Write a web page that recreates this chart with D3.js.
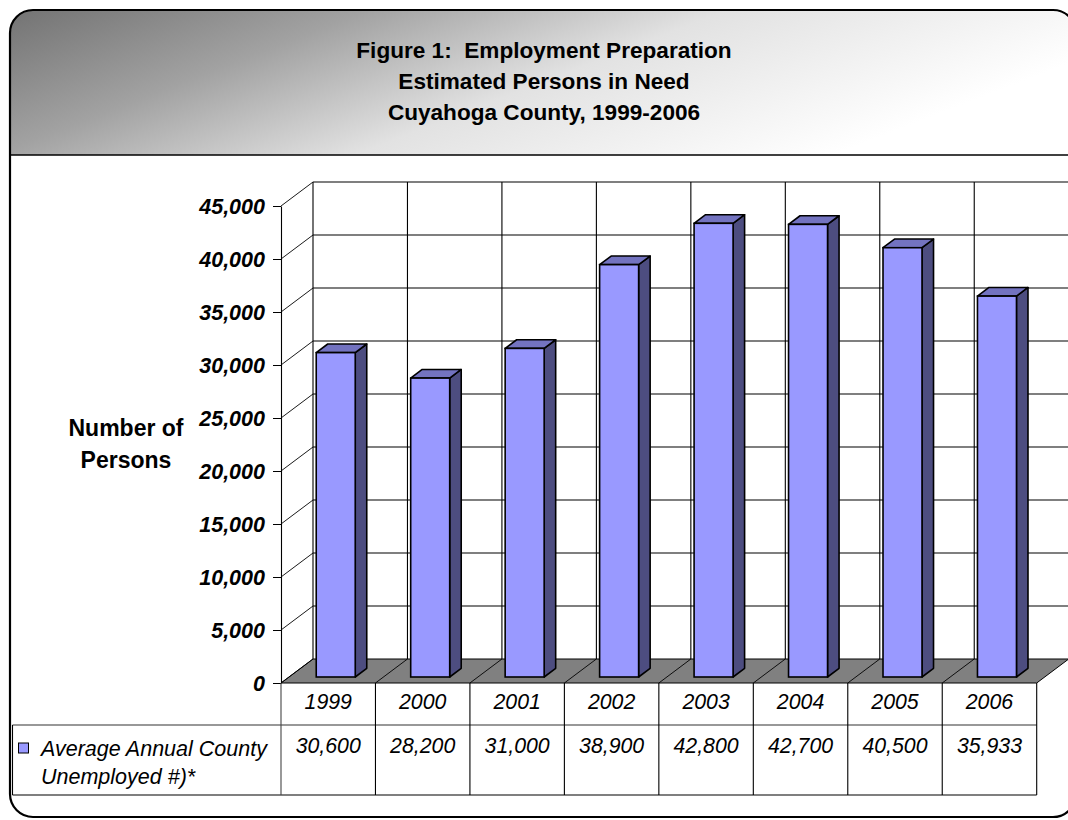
<!DOCTYPE html>
<html>
<head>
<meta charset="utf-8">
<script src="https://cdnjs.cloudflare.com/ajax/libs/d3/7.8.5/d3.min.js"></script>
<style>
  html, body { margin: 0; padding: 0; background: #ffffff; }
  svg { display: block; font-family: "Liberation Sans", Arial, sans-serif; }
</style>
</head>
<body>
<svg id="chart" width="1068" height="820"></svg>
<script>
// ---- data ----
const titleLines = ["Figure 1:  Employment Preparation", "Estimated Persons in Need", "Cuyahoga County, 1999-2006"];
const years = ["1999", "2000", "2001", "2002", "2003", "2004", "2005", "2006"];
const unemployed = [30600, 28200, 31000, 38900, 42800, 42700, 40500, 35933];
const yTicks = [0, 5000, 10000, 15000, 20000, 25000, 30000, 35000, 40000, 45000];
const yAxisTitle = ["Number of", "Persons"];
const seriesName = ["Average Annual County", "Unemployed #)*"];

// ---- layout ----
const svg = d3.select("#chart");
const fmt = d3.format(",");
const DX = 32, DY = -24;              // depth offset of the 3D box
const front0 = 683, frontTop = 206;   // front plane y for 0 and 45,000
const xLeft = 281, xRight = 1036.7;
const y = d3.scaleLinear().domain([0, 45000]).range([front0, frontTop]);
const x = d3.scaleBand().domain(years).range([xLeft, xRight]).paddingInner(0).paddingOuter(0);
const off = t => [DX * t, DY * t];

// frame + header
const defs = svg.append("defs");
const grad = defs.append("linearGradient").attr("id", "hdr")
  .attr("x1", "0").attr("y1", "0").attr("x2", "1").attr("y2", "0.35");
grad.append("stop").attr("offset", "0").attr("stop-color", "#737373");
grad.append("stop").attr("offset", "0.3").attr("stop-color", "#a2a2a2");
grad.append("stop").attr("offset", "0.6").attr("stop-color", "#e2e2e2");
grad.append("stop").attr("offset", "1").attr("stop-color", "#ffffff");
defs.append("clipPath").attr("id", "frameClip")
  .append("rect").attr("x", 10).attr("y", 10).attr("width", 1066).attr("height", 807).attr("rx", 23).attr("ry", 23);

svg.append("rect").attr("x", 10).attr("y", 10).attr("width", 1066).attr("height", 145)
  .attr("fill", "url(#hdr)").attr("clip-path", "url(#frameClip)");
svg.append("line").attr("x1", 10).attr("x2", 1076).attr("y1", 155).attr("y2", 155)
  .attr("stroke", "#000").attr("stroke-width", 1.5);
svg.append("rect").attr("x", 10).attr("y", 10).attr("width", 1066).attr("height", 807)
  .attr("rx", 23).attr("ry", 23).attr("fill", "none").attr("stroke", "#000").attr("stroke-width", 2.2);

svg.append("g").selectAll("text").data(titleLines).join("text")
  .attr("x", 544).attr("y", (d, i) => 58 + i * 31)
  .attr("text-anchor", "middle").attr("font-weight", "bold").attr("font-size", 22.6)
  .style("white-space", "pre")
  .attr("fill", "#000").text(d => d);

// ---- 3D plot ----
const plot = svg.append("g");
const [bx, by] = off(1);
// back wall horizontal grid
plot.append("g").selectAll("line").data(yTicks.filter(d => d > 0)).join("line")
  .attr("x1", xLeft + bx).attr("x2", xRight + bx)
  .attr("y1", d => y(d) + by).attr("y2", d => y(d) + by)
  .attr("stroke", "#000").attr("stroke-width", 1.1);
// back wall vertical grid
plot.append("g").selectAll("line").data(d3.range(years.length + 1)).join("line")
  .attr("x1", i => xLeft + i * x.bandwidth() + bx).attr("x2", i => xLeft + i * x.bandwidth() + bx)
  .attr("y1", y(45000) + by).attr("y2", y(0) + by)
  .attr("stroke", "#000").attr("stroke-width", 1.1);
// side wall diagonals
plot.append("g").selectAll("line").data(yTicks.filter(d => d > 0)).join("line")
  .attr("x1", xLeft).attr("x2", xLeft + bx)
  .attr("y1", d => y(d)).attr("y2", d => y(d) + by)
  .attr("stroke", "#000").attr("stroke-width", 0.9);
// floor
plot.append("polygon")
  .attr("points", [[xLeft, y(0)], [xRight, y(0)], [xRight + bx, y(0) + by], [xLeft + bx, y(0) + by]].map(p => p.join(",")).join(" "))
  .attr("fill", "#808080").attr("stroke", "#000").attr("stroke-width", 1);
plot.append("g").selectAll("line").data(d3.range(years.length)).join("line")
  .attr("x1", i => xLeft + i * x.bandwidth()).attr("x2", i => xLeft + i * x.bandwidth() + bx)
  .attr("y1", y(0)).attr("y2", y(0) + by)
  .attr("stroke", "#000").attr("stroke-width", 0.9);

// bars
const t0 = 0.25, t1 = 0.61;
const bw = 39;
const bars = plot.append("g").selectAll("g").data(years.map((yr, i) => ({ yr, v: unemployed[i] }))).join("g");
bars.each(function (d) {
  const g = d3.select(this);
  const [fx, fy] = off(t0);
  const [kx, ky] = off(t1);
  const L = x(d.yr) + (x.bandwidth() - bw) / 2 + fx - 0.5;
  const R = L + bw;
  const B = y(0) + fy;
  const T = y(d.v) + fy;
  const ddx = kx - fx, ddy = ky - fy;
  const pts = a => a.map(p => p.join(",")).join(" ");
  g.append("polygon").attr("points", pts([[R, B], [R + ddx, B + ddy], [R + ddx, T + ddy], [R, T]]))
    .attr("fill", "#4d4d80").attr("stroke", "#000").attr("stroke-width", 1.6).attr("stroke-linejoin", "round");
  g.append("polygon").attr("points", pts([[L, T], [R, T], [R + ddx, T + ddy], [L + ddx, T + ddy]]))
    .attr("fill", "#7373c0").attr("stroke", "#000").attr("stroke-width", 1.6).attr("stroke-linejoin", "round");
  g.append("rect").attr("x", L).attr("y", T).attr("width", bw).attr("height", B - T)
    .attr("fill", "#9999ff").attr("stroke", "#000").attr("stroke-width", 1.6);
});

// y axis
const yAxis = d3.axisLeft(y).tickValues(yTicks).tickFormat(fmt)
  .tickSizeInner(8).tickSizeOuter(0).tickPadding(8);
const ag = svg.append("g").attr("transform", `translate(${xLeft},0)`).call(yAxis);
ag.select(".domain").attr("stroke", "#000").attr("stroke-width", 1.1);
ag.selectAll(".tick line").attr("stroke", "#000").attr("stroke-width", 1);
ag.selectAll(".tick text").attr("font-family", "'Liberation Sans', Arial, sans-serif")
  .attr("font-size", 21.5).attr("font-weight", "bold").attr("font-style", "italic").attr("fill", "#000")
  .attr("dy", "0.34em");

svg.append("g").selectAll("text").data(yAxisTitle).join("text")
  .attr("x", 126).attr("y", (d, i) => 436 + i * 32)
  .attr("text-anchor", "middle").attr("font-weight", "bold").attr("font-size", 23)
  .attr("fill", "#000").text(d => d);

// ---- data table ----
const tbl = svg.append("g");
const rowTop = y(0), rowMid = 725, rowBot = 795, legLeft = 12.5;
tbl.append("line").attr("x1", legLeft).attr("x2", xRight).attr("y1", rowMid).attr("y2", rowMid)
  .attr("stroke", "#333").attr("stroke-width", 1.1);
tbl.append("line").attr("x1", legLeft).attr("x2", xRight).attr("y1", rowBot).attr("y2", rowBot)
  .attr("stroke", "#000").attr("stroke-width", 1.1);
tbl.append("line").attr("x1", legLeft).attr("x2", legLeft).attr("y1", rowMid).attr("y2", rowBot)
  .attr("stroke", "#000").attr("stroke-width", 1.1);
tbl.append("g").selectAll("line").data(d3.range(years.length + 1)).join("line")
  .attr("x1", i => xLeft + i * x.bandwidth()).attr("x2", i => xLeft + i * x.bandwidth())
  .attr("y1", rowTop).attr("y2", rowBot)
  .attr("stroke", i => i === 0 ? "#444" : "#000").attr("stroke-width", 1.1);
tbl.append("g").selectAll("text").data(years).join("text")
  .attr("x", d => x(d) + x.bandwidth() / 2).attr("y", 709)
  .attr("text-anchor", "middle").attr("font-style", "italic").attr("font-size", 21.3)
  .attr("fill", "#000").text(d => d);
tbl.append("g").selectAll("text").data(unemployed).join("text")
  .attr("x", (d, i) => x(years[i]) + x.bandwidth() / 2).attr("y", 753)
  .attr("text-anchor", "middle").attr("font-style", "italic").attr("font-size", 21.3)
  .attr("fill", "#000").text(d => fmt(d));
tbl.append("rect").attr("x", 18.5).attr("y", 743).attr("width", 10).attr("height", 10)
  .attr("fill", "#9999ff").attr("stroke", "#000").attr("stroke-width", 1);
tbl.append("g").selectAll("text").data(seriesName).join("text")
  .attr("x", 41).attr("y", (d, i) => 756 + i * 28)
  .attr("font-style", "italic").attr("font-size", 21.5).attr("fill", "#000").text(d => d);
</script>
</body>
</html>
